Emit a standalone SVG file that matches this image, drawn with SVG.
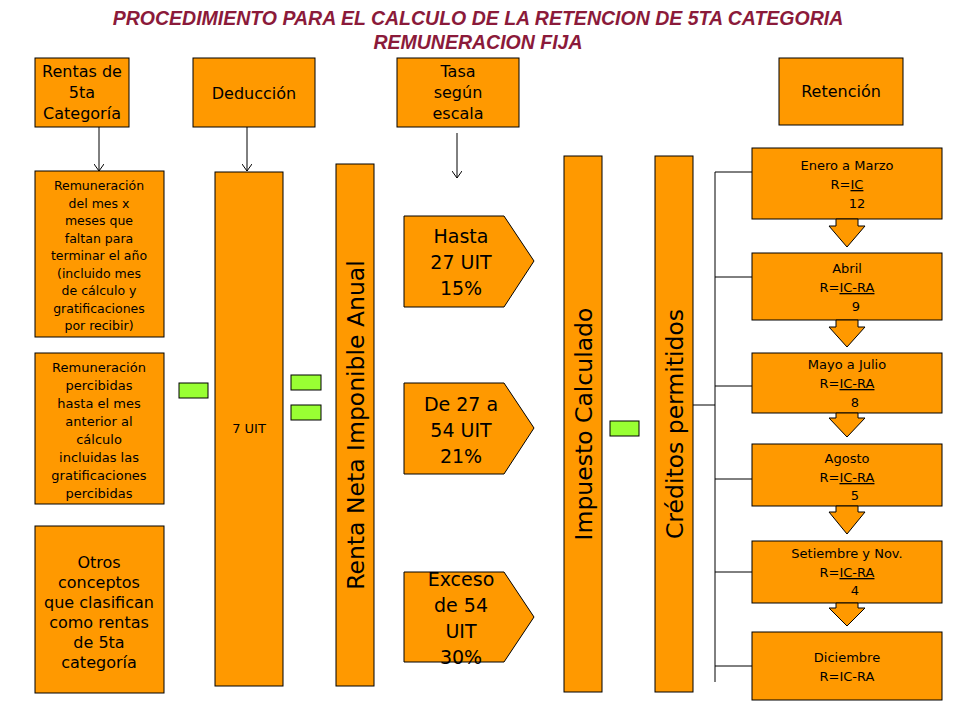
<svg xmlns="http://www.w3.org/2000/svg" width="960" height="720" viewBox="0 0 960 720">
<style>
.b{fill:#FF9900;stroke:#000;stroke-width:1}
.g{fill:#99FF33;stroke:#000;stroke-width:1}
text{font-family:"DejaVu Sans",Verdana,sans-serif;fill:#000;text-anchor:middle}
.s{font-size:13px}
.q{font-size:12.5px}
.m{font-size:16px}
.l{font-size:19px}
.v{font-size:23.5px}
.t{font-family:"Liberation Sans",Arial,sans-serif;font-size:19.5px;font-weight:bold;font-style:italic;fill:#8B1A3A}
line,.c{stroke:#000;stroke-width:1;fill:none}
</style>
<defs><marker id="a" markerWidth="10" markerHeight="10" refX="9" refY="5" orient="auto" markerUnits="userSpaceOnUse"><path d="M2,0 L9,5 L2,10" fill="none" stroke="#000"/></marker></defs>
<text class="t" x="478" y="25">PROCEDIMIENTO PARA EL CALCULO  DE LA RETENCION DE 5TA CATEGORIA</text>
<text class="t" x="478" y="49">REMUNERACION FIJA</text>
<g id="h1"><rect class="b" x="35" y="58" width="94" height="69"/><text class="m" x="82" y="77">Rentas de</text><text class="m" x="82" y="98">5ta</text><text class="m" x="82" y="119">Categoría</text></g>
<g id="h2"><rect class="b" x="193" y="58" width="122" height="69"/><text class="m" x="254" y="99">Deducción</text></g>
<g id="h3"><rect class="b" x="397" y="58" width="122" height="69"/><text class="m" x="458" y="77">Tasa</text><text class="m" x="458" y="98">según</text><text class="m" x="458" y="119">escala</text></g>
<g id="h4"><rect class="b" x="779" y="58" width="124" height="67"/><text class="m" x="841" y="97">Retención</text></g>
<g id="r1"><rect class="b" x="35" y="171" width="129" height="166"/>
<text class="q" x="99" y="190">Remuneración</text><text class="q" x="99" y="207.5">del mes x</text><text class="q" x="99" y="225">meses que</text><text class="q" x="99" y="242.5">faltan para</text><text class="q" x="99" y="260">terminar el año</text><text class="q" x="99" y="277.5">(incluido mes</text><text class="q" x="99" y="295">de cálculo y</text><text class="q" x="99" y="312.5">gratificaciones</text><text class="q" x="99" y="330">por recibir)</text></g>
<g id="r2"><rect class="b" x="35" y="353" width="129" height="151"/>
<text class="s" x="99" y="372">Remuneración</text><text class="s" x="99" y="390">percibidas</text><text class="s" x="99" y="408">hasta el mes</text><text class="s" x="99" y="426">anterior al</text><text class="s" x="99" y="444">cálculo</text><text class="s" x="99" y="462">incluidas las</text><text class="s" x="99" y="480">gratificaciones</text><text class="s" x="99" y="498">percibidas</text></g>
<g id="r3"><rect class="b" x="35" y="526" width="129" height="167"/>
<text class="m" x="99" y="568">Otros</text><text class="m" x="99" y="588">conceptos</text><text class="m" x="99" y="608">que clasifican</text><text class="m" x="99" y="628">como rentas</text><text class="m" x="99" y="648">de 5ta</text><text class="m" x="99" y="668">categoría</text></g>
<g id="uit"><rect class="b" x="215" y="172" width="68" height="514"/><text class="s" x="249" y="433">7 UIT</text></g>
<g id="gr"><rect class="g" x="179" y="383" width="29" height="15"/><rect class="g" x="291" y="375" width="30" height="15"/><rect class="g" x="291" y="405" width="30" height="15"/><rect class="g" x="610" y="421" width="29" height="15"/></g>
<g id="rn"><rect class="b" x="336" y="164" width="38" height="522"/><text class="v" transform="translate(364,425) rotate(-90)">Renta Neta  Imponible Anual</text></g>
<g id="p1"><path class="b" d="M404,216H504L534,261L504,307H404Z"/><text class="l" x="461" y="243">Hasta</text><text class="l" x="461" y="269">27 UIT</text><text class="l" x="461" y="295">15%</text></g>
<g id="p2"><path class="b" d="M404,383H504L534,428L504,474H404Z"/><text class="l" x="461" y="411">De 27 a</text><text class="l" x="461" y="437">54 UIT</text><text class="l" x="461" y="463">21%</text></g>
<g id="p3"><path class="b" d="M404,572H504L534,617L504,662H404Z"/><text class="l" x="461" y="586">Exceso</text><text class="l" x="461" y="612">de 54</text><text class="l" x="461" y="638">UIT</text><text class="l" x="461" y="664">30%</text></g>
<g id="ic"><rect class="b" x="564" y="156" width="38" height="536"/><text class="v" transform="translate(592,424) rotate(-90)">Impuesto Calculado</text></g>
<g id="cp"><rect class="b" x="655" y="156" width="38" height="536"/><text class="v" transform="translate(683,424) rotate(-90)">Créditos permitidos</text></g>
<g id="m1"><rect class="b" x="752" y="148" width="190" height="71"/><text class="s" x="847" y="170">Enero a Marzo</text><text class="s" x="847" y="189">R=<tspan text-decoration="underline">IC</tspan></text><text class="s" x="857" y="208">12</text></g>
<g id="m2"><rect class="b" x="752" y="253" width="190" height="67"/><text class="s" x="847" y="273">Abril</text><text class="s" x="847" y="292">R=<tspan text-decoration="underline">IC-RA</tspan></text><text class="s" x="856" y="311">9</text></g>
<g id="m3"><rect class="b" x="752" y="353" width="190" height="60"/><text class="s" x="847" y="369">Mayo a Julio</text><text class="s" x="847" y="388">R=<tspan text-decoration="underline">IC-RA</tspan></text><text class="s" x="855" y="407">8</text></g>
<g id="m4"><rect class="b" x="752" y="444" width="190" height="62"/><text class="s" x="847" y="463">Agosto</text><text class="s" x="847" y="482">R=<tspan text-decoration="underline">IC-RA</tspan></text><text class="s" x="855" y="500">5</text></g>
<g id="m5"><rect class="b" x="752" y="541" width="190" height="62"/><text class="s" x="847" y="558">Setiembre y Nov.</text><text class="s" x="847" y="577">R=<tspan text-decoration="underline">IC-RA</tspan></text><text class="s" x="855" y="595">4</text></g>
<g id="m6"><rect class="b" x="752" y="632" width="190" height="68"/><text class="s" x="847" y="662">Diciembre</text><text class="s" x="847" y="681">R=IC-RA</text></g>
<g id="connectors">
<line x1="99" y1="127" x2="99" y2="171" marker-end="url(#a)"/>
<line x1="247" y1="127" x2="247" y2="171" marker-end="url(#a)"/>
<line x1="457" y1="133" x2="457" y2="178" marker-end="url(#a)"/>
<path class="c" d="M693,405H715M715,172V682M715,172H752M715,277H752M715,386H752M715,479H752M715,572H752M715,666H752"/>
<path class="b" d="M836,219H858V226H865L847,247L829,226H836Z"/>
<path class="b" d="M836,320H858V327H865L847,347L829,327H836Z"/>
<path class="b" d="M836,413H858V418H865L847,437L829,418H836Z"/>
<path class="b" d="M836,506H858V512H865L847,534L829,512H836Z"/>
<path class="b" d="M836,603H858V608H865L847,626L829,608H836Z"/>
</g>
</svg>
